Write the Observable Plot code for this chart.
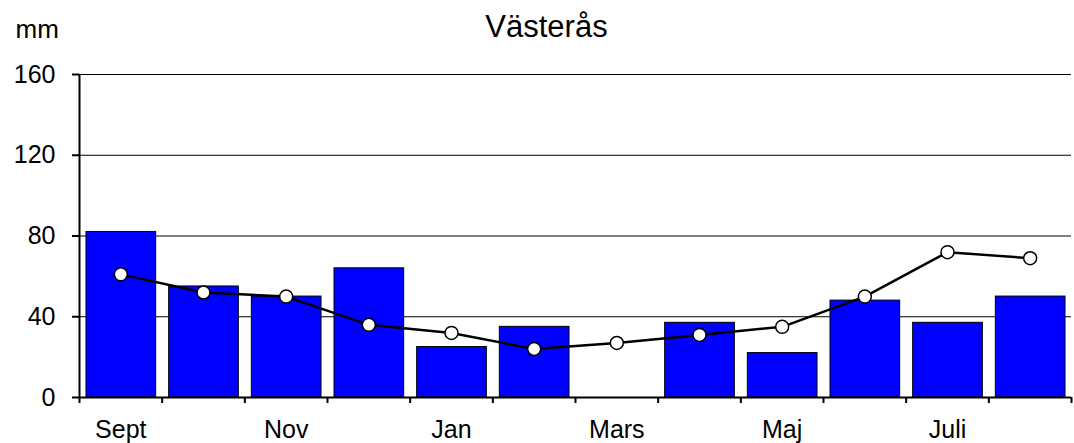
<!DOCTYPE html>
<html><head><meta charset="utf-8">
<script src="https://cdn.jsdelivr.net/npm/d3@7"></script>
<script src="https://cdn.jsdelivr.net/npm/@observablehq/plot@0.6"></script>
<style>body{margin:0;background:#fff}</style>
</head><body><div id="chart"></div>
<script>
const months = ["Sept","Okt","Nov","Dec","Jan","Feb","Mars","Apr","Maj","Juni","Juli","Aug"];
const tickLabels = ["Sept","Nov","Jan","Mars","Maj","Juli"];
const precipitation = [82,55,50,64,25,35,0,37,22,48,37,50];
const normal = [61,52,50,36,32,24,27,31,35,50,72,69];
const yTicks = [0,40,80,120,160];
const title = "Västerås";
const unit = "mm";

const data = months.map((m,i)=>({month:m, i, bar:precipitation[i], line:normal[i]}));
const boundaries = d3.range(months.length + 1);
const labelled = data.filter(d => tickLabels.includes(d.month));
const font = "'Liberation Sans', Arial, sans-serif";

const chart = Plot.plot({
  width: 1074, height: 443,
  marginLeft: 79, marginRight: 3, marginTop: 74, marginBottom: 46,
  style: {fontFamily: font, fontSize: "25px", color: "black", background: "white"},
  x: {domain: [0, months.length], axis: null},
  y: {domain: [0, 160], axis: null},
  marks: [
    Plot.gridY(yTicks.slice(1), {stroke: "black", strokeOpacity: 1, strokeWidth: 1}),
    Plot.rectY(data.filter(d => d.bar > 0), {x1: d => d.i, x2: d => d.i + 1, y: "bar", fill: "#0000ff", stroke: "black", strokeWidth: 1, insetLeft: 7, insetRight: 6}),
    Plot.ruleX([0], {stroke: "black", strokeWidth: 2}),
    Plot.ruleY([0], {stroke: "black", strokeWidth: 2}),
    Plot.axisY(yTicks, {tickSize: 7, tickPadding: 17, fontSize: 25, strokeWidth: 2, stroke: "black"}),
    Plot.axisX(boundaries, {tickSize: 6, tickFormat: () => "", strokeWidth: 2, stroke: "black"}),
    Plot.text(labelled, {x: d => d.i + 0.5, y: () => 0, text: "month", dy: 32, lineAnchor: "middle", fontSize: 25, fill: "black"}),
    Plot.line(data, {x: d => d.i + 0.5, y: "line", stroke: "black", strokeWidth: 2.5}),
    Plot.dot(data, {x: d => d.i + 0.5, y: "line", r: 6.5, fill: "white", stroke: "black", strokeWidth: 1.5}),
    Plot.text([title], {frameAnchor: "top", dx: -29, dy: -47, lineAnchor: "middle", fontSize: 31, fill: "black"}),
    Plot.text([unit], {frameAnchor: "top-left", textAnchor: "start", dx: -64, dy: -45, lineAnchor: "middle", fontSize: 26, fill: "black"})
  ]
});
document.getElementById("chart").append(chart);
</script>
</body></html>
